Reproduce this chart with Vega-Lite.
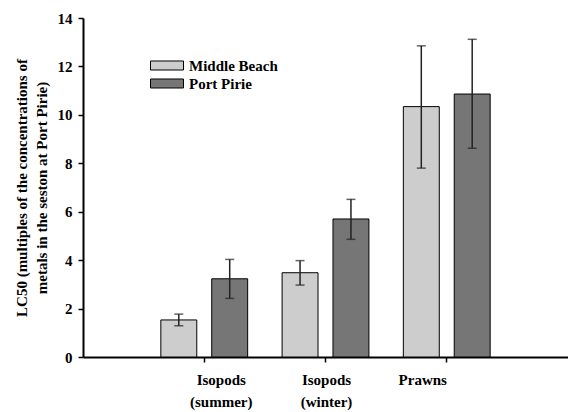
{
  "$schema": "https://vega.github.io/schema/vega-lite/v6.json",
  "autosize": {"type": "none"},
  "padding": {"left": 83, "top": 18, "right": 0, "bottom": 55},
  "width": 485,
  "height": 339,
  "background": "white",
  "config": {
    "view": {"stroke": null},
    "font": "Liberation Serif"
  },
  "data": {
    "values": [
      {"group": "Isopods (summer)", "site": "Middle Beach", "value": 1.53, "low": 1.29, "high": 1.77},
      {"group": "Isopods (summer)", "site": "Port Pirie", "value": 3.23, "low": 2.42, "high": 4.03},
      {"group": "Isopods (winter)", "site": "Middle Beach", "value": 3.48, "low": 2.97, "high": 3.98},
      {"group": "Isopods (winter)", "site": "Port Pirie", "value": 5.7, "low": 4.86, "high": 6.51},
      {"group": "Prawns", "site": "Middle Beach", "value": 10.34, "low": 7.8, "high": 12.85},
      {"group": "Prawns", "site": "Port Pirie", "value": 10.86, "low": 8.62, "high": 13.12}
    ]
  },
  "encoding": {
    "x": {
      "field": "group",
      "type": "nominal",
      "sort": null,
      "scale": {"domain": ["Isopods (summer)", "Isopods (winter)", "Prawns"], "paddingInner": 0, "paddingOuter": 0.5},
      "axis": {
        "title": null,
        "labelAngle": 0,
        "labelExpr": "split(datum.label, ' ')",
        "labelFont": "Liberation Serif",
        "labelFontWeight": "bold",
        "labelFontSize": 15,
        "labelColor": "#000",
        "labelLineHeight": 22,
        "labelPadding": 10,
        "labelOffset": {"expr": "datum.value == 'Isopods (summer)' ? 17 : datum.value == 'Prawns' ? -24 : 1"},
        "tickSize": 5,
        "tickColor": "#000",
        "tickWidth": 1.5,
        "domainColor": "#000",
        "domainWidth": 2
      }
    },
    "xOffset": {
      "field": "site",
      "type": "nominal",
      "scale": {"domain": ["Middle Beach", "Port Pirie"], "paddingInner": 0.294, "paddingOuter": 0.338}
    }
  },
  "layer": [
    {
      "mark": {"type": "bar", "stroke": "#000", "strokeWidth": 1},
      "encoding": {
        "y": {
          "field": "value",
          "type": "quantitative",
          "scale": {"domain": [0, 14]},
          "axis": {
            "values": [0, 2, 4, 6, 8, 10, 12, 14],
            "grid": false,
            "title": ["LC50 (multiples of the concentrations of", "metals in the seston at Port Pirie)"],
            "titleFont": "Liberation Serif",
            "titleFontWeight": "bold",
            "titleFontSize": 15,
            "titleColor": "#000",
            "titleLineHeight": 20,
            "titlePadding": 8,
            "labelFont": "Liberation Serif",
            "labelFontWeight": "bold",
            "labelFontSize": 15,
            "labelColor": "#000",
            "labelPadding": 6,
            "tickSize": 5,
            "tickColor": "#000",
            "tickWidth": 1.5,
            "domainColor": "#000",
            "domainWidth": 2
          }
        },
        "color": {
          "field": "site",
          "type": "nominal",
          "scale": {"domain": ["Middle Beach", "Port Pirie"], "range": ["#cdcdcd", "#767676"]},
          "legend": {
            "title": null,
            "orient": "none",
            "legendX": 67,
            "legendY": 40,
            "padding": 0,
            "symbolType": "M-1,-0.273H1V0.273H-1Z",
            "symbolSize": 1089,
            "symbolStrokeColor": "#000",
            "symbolStrokeWidth": 1,
            "symbolOpacity": 1,
            "clipHeight": 15,
            "rowPadding": 2,
            "labelOffset": 5,
            "labelFont": "Liberation Serif",
            "labelFontWeight": "bold",
            "labelFontSize": 15,
            "labelColor": "#000"
          }
        }
      }
    },
    {
      "mark": {"type": "rule", "color": "#222", "strokeWidth": 1.5},
      "encoding": {
        "y": {"field": "low", "type": "quantitative"},
        "y2": {"field": "high"}
      }
    },
    {
      "mark": {"type": "tick", "color": "#222", "size": 9, "thickness": 1.5},
      "encoding": {
        "y": {"field": "low", "type": "quantitative"}
      }
    },
    {
      "mark": {"type": "tick", "color": "#222", "size": 9, "thickness": 1.5},
      "encoding": {
        "y": {"field": "high", "type": "quantitative"}
      }
    }
  ]
}
